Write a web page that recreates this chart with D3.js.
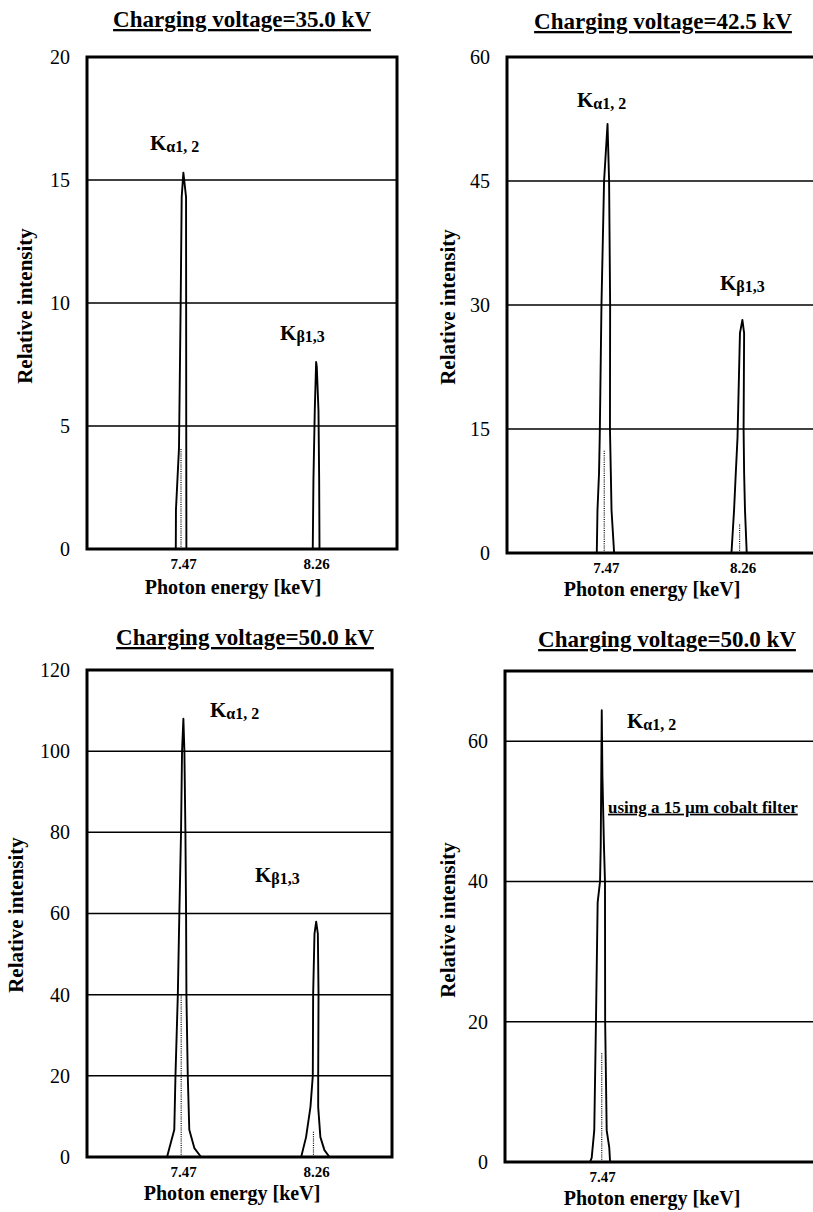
<!DOCTYPE html>
<html>
<head>
<meta charset="utf-8">
<script src="https://cdn.jsdelivr.net/npm/d3@7"></script>
<style>
  body { margin: 0; background: #fff; }
  svg text { font-family: "Liberation Serif", "Times New Roman", serif; fill: #000; }
</style>
</head>
<body>
<div id="chart"></div>
<script>
// ---- data ----
var titles = ["Charging voltage=35.0 kV", "Charging voltage=42.5 kV",
              "Charging voltage=50.0 kV", "Charging voltage=50.0 kV"];
var xTickValues = [7.47, 8.26];
var xTickValuesFilter = [7.47];

var yTicks35 = [0, 5, 10, 15, 20];
var yTicks42 = [0, 15, 30, 45, 60];
var yTicks50 = [0, 20, 40, 60, 80, 100, 120];
var yTicksCo = [0, 20, 40, 60];

// spectra: photon energy [keV] / relative intensity
var energy35 = [6.90, 7.427, 7.428, 7.446, 7.456, 7.462, 7.472, 7.488, 7.489, 7.490,
                8.240, 8.244, 8.252, 8.260, 8.264, 8.274, 8.278, 8.280, 8.74];
var intensity35 = [0, 0, 1.6, 4.1, 10, 14.3, 15.3, 14.3, 5, 0,
                   0, 2.8, 5.65, 7.6, 7.4, 5.6, 2.8, 0, 0];

var energy42 = [6.90, 7.418, 7.422, 7.431, 7.435, 7.445, 7.460, 7.480, 7.489, 7.495, 7.494, 7.499, 7.503, 7.518,
                8.195, 8.210, 8.220, 8.230, 8.244, 8.258, 8.268, 8.265, 8.268, 8.273, 8.283, 8.70];
var intensity42 = [0, 0, 5.2, 9.7, 14, 30, 45, 51.9, 45, 30, 15, 9.7, 5.2, 0,
                   0, 5.2, 9.7, 14, 26.6, 28.2, 26.6, 15, 9.7, 5.2, 0, 0];

var energy50 = [6.90, 7.375, 7.389, 7.418, 7.425, 7.439, 7.448, 7.458, 7.464, 7.472, 7.478, 7.484, 7.488, 7.490,
                7.498, 7.507, 7.537, 7.577,
                8.171, 8.181, 8.200, 8.226, 8.240, 8.242, 8.250, 8.260, 8.270, 8.274, 8.272, 8.272,
                8.285, 8.309, 8.339, 8.71];
var intensity50 = [0, 0, 2.2, 6.7, 20, 40, 60, 80, 100, 108, 100, 80, 60, 40,
                   20, 6.7, 2.2, 0,
                   0, 1.7, 4.9, 12.3, 20, 40, 55, 58, 55, 40, 20, 12.3,
                   4.9, 1.7, 0, 0];

var energyCo = [6.90, 7.399, 7.409, 7.424, 7.434, 7.444, 7.458, 7.462, 7.468, 7.472, 7.481, 7.487, 7.488,
                7.497, 7.512, 7.517, 8.72];
var intensityCo = [0, 0, 0.6, 4.5, 20, 37, 40, 45, 64.4, 55, 45, 40, 20,
                   4.5, 2.1, 0, 0];

// dotted channel marks inside the peaks
var dotEnergy35 = [7.458], dotHeight35 = [4.1];
var dotEnergy42 = [7.461, 8.242], dotHeight42 = [12.5, 3.5];
var dotEnergy50 = [7.459, 8.244], dotHeight50 = [40, 6.4];
var dotEnergyCo = [7.468], dotHeightCo = [15.5];

// peak labels: [energy, intensity, main, sub]
var labels35 = [[7.274, 16.2, "K", "\u03b11, 2"], [8.046, 8.5, "K", "\u03b21,3"]];
var labels42 = [[7.304, 53.9, "K", "\u03b11, 2"], [8.129, 31.8, "K", "\u03b21,3"]];
var labels50 = [[7.630, 108.4, "K", "\u03b11, 2"], [7.897, 67.8, "K", "\u03b21,3"]];
var labelsCo = [[7.616, 61.9, "K", "\u03b11, 2"]];
var filterNote = [7.505, 49.8, "using a 15 \u00b5m cobalt filter"];

// ---- layout ----
var panels = [
  { title: titles[0], left: 87, top: 57, width: 310, height: 492, xDomain: [6.9, 8.74], yMax: 20,
    yTicks: yTicks35, xTicks: xTickValues, energy: energy35, intensity: intensity35,
    dotE: dotEnergy35, dotH: dotHeight35, labels: labels35,
    titlePos: [242, 27], xLabelPos: [233, 594], yLabelPos: [32, 306] },
  { title: titles[1], left: 507, top: 57, width: 312, height: 496, xDomain: [6.9, 8.70], yMax: 60,
    yTicks: yTicks42, xTicks: xTickValues, energy: energy42, intensity: intensity42,
    dotE: dotEnergy42, dotH: dotHeight42, labels: labels42,
    titlePos: [663, 29], xLabelPos: [652, 596], yLabelPos: [455, 307] },
  { title: titles[2], left: 87, top: 670, width: 305, height: 487, xDomain: [6.9, 8.71], yMax: 120,
    yTicks: yTicks50, xTicks: xTickValues, energy: energy50, intensity: intensity50,
    dotE: dotEnergy50, dotH: dotHeight50, labels: labels50,
    titlePos: [245, 645], xLabelPos: [232, 1200], yLabelPos: [23, 915] },
  { title: titles[3], left: 505, top: 671, width: 310, height: 491, xDomain: [6.9, 8.72], yMax: 70,
    yTicks: yTicksCo, xTicks: xTickValuesFilter, energy: energyCo, intensity: intensityCo,
    dotE: dotEnergyCo, dotH: dotHeightCo, labels: labelsCo, note: filterNote,
    titlePos: [667, 647], xLabelPos: [652, 1205], yLabelPos: [455, 920] }
];

var svg = d3.select("#chart").append("svg")
    .attr("width", 813)
    .attr("height", 1212);

panels.forEach(function (p) {
    var x = d3.scaleLinear().domain(p.xDomain).range([0, p.width]);
    var y = d3.scaleLinear().domain([0, p.yMax]).range([p.height, 0]);

    var g = svg.append("g")
        .attr("transform", `translate(${p.left}, ${p.top})`);

    // horizontal grid lines
    g.selectAll(".grid")
        .data(p.yTicks.filter(t => t > 0 && t < p.yMax))
        .enter()
        .append("line")
        .attr("class", "grid")
        .attr("x1", 0)
        .attr("x2", p.width)
        .attr("y1", d => y(d))
        .attr("y2", d => y(d))
        .attr("stroke", "#000")
        .attr("stroke-width", 1.5);

    // dotted marks inside the peaks
    g.selectAll(".dots")
        .data(d3.zip(p.dotE, p.dotH))
        .enter()
        .append("line")
        .attr("x1", d => x(d[0]))
        .attr("x2", d => x(d[0]))
        .attr("y1", y(0))
        .attr("y2", d => y(d[1]))
        .attr("stroke", "#000")
        .attr("stroke-width", 1.2)
        .attr("stroke-dasharray", "1,1.2");

    // spectrum
    var line = d3.line()
        .x(d => x(d[0]))
        .y(d => y(d[1]));

    g.append("path")
        .datum(d3.zip(p.energy, p.intensity))
        .attr("d", line)
        .attr("fill", "none")
        .attr("stroke", "#000")
        .attr("stroke-width", 1.9)
        .attr("stroke-linejoin", "round");

    // frame
    g.append("rect")
        .attr("x", 0)
        .attr("y", 0)
        .attr("width", p.width)
        .attr("height", p.height)
        .attr("fill", "none")
        .attr("stroke", "#000")
        .attr("stroke-width", 3);

    // axes
    var leftAxis = d3.axisLeft(y)
        .tickValues(p.yTicks)
        .tickSize(0)
        .tickPadding(17)
        .tickFormat(d3.format("d"));

    var yAxis = g.append("g").call(leftAxis);
    yAxis.select(".domain").remove();
    yAxis.selectAll("text")
        .attr("font-family", "Liberation Serif, serif")
        .attr("font-size", 20);

    var bottomAxis = d3.axisBottom(x)
        .tickValues(p.xTicks)
        .tickSize(0)
        .tickPadding(9)
        .tickFormat(d3.format(".2f"));

    var xAxis = g.append("g")
        .attr("transform", `translate(0, ${p.height})`)
        .call(bottomAxis);
    xAxis.select(".domain").remove();
    xAxis.selectAll("text")
        .attr("font-family", "Liberation Serif, serif")
        .attr("font-weight", "bold")
        .attr("font-size", 15);

    // peak labels
    p.labels.forEach(function (l) {
        var t = g.append("text")
            .attr("x", x(l[0]))
            .attr("y", y(l[1]))
            .attr("font-weight", "bold")
            .attr("font-size", 21)
            .text(l[2]);
        t.append("tspan")
            .attr("font-size", 16)
            .attr("dy", 2)
            .text(l[3]);
    });

    if (p.note) {
        g.append("text")
            .attr("x", x(p.note[0]))
            .attr("y", y(p.note[1]))
            .attr("font-weight", "bold")
            .attr("font-size", 17)
            .style("text-decoration", "underline")
            .text(p.note[2]);
    }

    // titles
    svg.append("text")
        .attr("x", p.titlePos[0])
        .attr("y", p.titlePos[1])
        .attr("text-anchor", "middle")
        .attr("font-weight", "bold")
        .attr("font-size", 23)
        .style("text-decoration", "underline")
        .text(p.title);

    svg.append("text")
        .attr("x", p.xLabelPos[0])
        .attr("y", p.xLabelPos[1])
        .attr("text-anchor", "middle")
        .attr("font-weight", "bold")
        .attr("font-size", 20)
        .text("Photon energy [keV]");

    svg.append("text")
        .attr("transform", `translate(${p.yLabelPos[0]}, ${p.yLabelPos[1]}) rotate(-90)`)
        .attr("text-anchor", "middle")
        .attr("font-weight", "bold")
        .attr("font-size", 21)
        .text("Relative intensity");
});
</script>
</body>
</html>
